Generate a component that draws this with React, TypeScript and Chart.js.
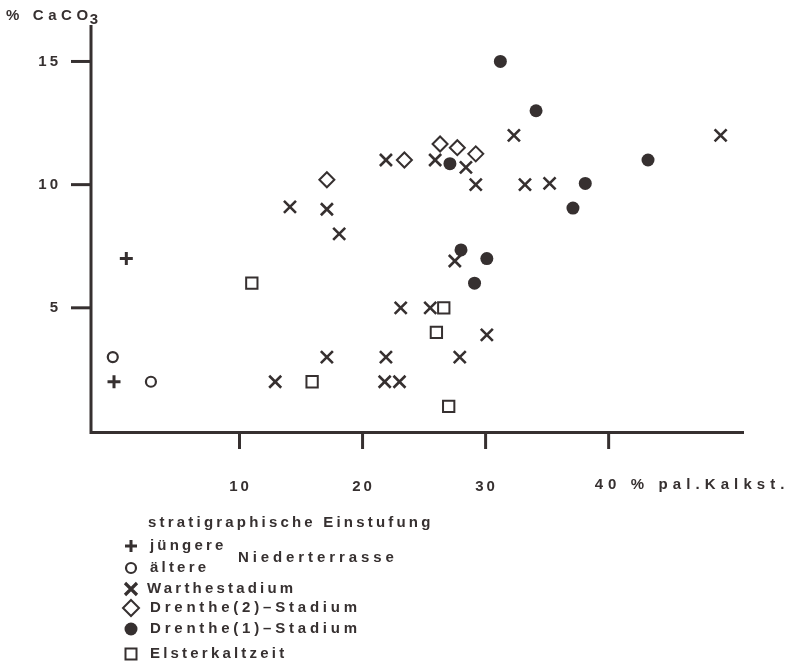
import React, { useEffect, useRef } from 'react';
import { Chart, registerables } from 'chart.js';

Chart.register(...registerables);

// ---- data (x = % pal. Kalkst., y = % CaCO3) ----
const juengereX = [0.8, -0.2];
const juengereY = [7.0, 2.0];

const aeltereX = [-0.3, 2.8];
const aeltereY = [3.0, 2.0];

const wartheX = [14.1, 17.1, 18.1, 21.9, 25.9, 28.4, 29.2, 32.3, 33.2, 35.2, 49.1, 27.5, 23.1, 25.5, 30.1, 17.1, 21.9, 27.9, 12.9, 21.8, 23.0];
const wartheY = [9.1, 9.0, 8.0, 11.0, 11.0, 10.7, 10.0, 12.0, 10.0, 10.05, 12.0, 6.9, 5.0, 5.0, 3.9, 3.0, 3.0, 3.0, 2.0, 2.0, 2.0];

const drenthe2X = [17.1, 23.4, 26.3, 27.7, 29.2];
const drenthe2Y = [10.2, 11.0, 11.65, 11.5, 11.25];

const drenthe1X = [31.2, 34.1, 27.1, 43.2, 38.1, 37.1, 28.0, 30.1, 29.1];
const drenthe1Y = [15.0, 13.0, 10.85, 11.0, 10.05, 9.05, 7.35, 7.0, 6.0];

const elsterX = [11.0, 15.9, 26.6, 26.0, 27.0];
const elsterY = [6.0, 2.0, 5.0, 4.0, 1.0];

const xTickValues = [10, 20, 30, 40];
const xTickLabels = ['10', '20', '30', '40 % pal.Kalkst.'];
const yTickValues = [5, 10, 15];
const yTickLabels = ['5', '10', '15'];

const yAxisTitle = '% CaCO';
const yAxisTitleSub = '3';
const legendTitle = 'stratigraphische Einstufung';
const legendGroupLabel = 'Niederterrasse';
const legendLabels = ['jüngere', 'ältere', 'Warthestadium', 'Drenthe(2)–Stadium', 'Drenthe(1)–Stadium', 'Elsterkaltzeit'];

const INK = '#363030';
const FONT = 'bold 15px "Liberation Sans", Arial, Helvetica, sans-serif';

const pts = (xs: number[], ys: number[]) => xs.map((x, i) => ({ x, y: ys[i] }));

export default function App() {
  const ref = useRef<HTMLCanvasElement | null>(null);

  useEffect(() => {
    const canvas = ref.current;
    if (!canvas) return;

    const axesPlugin = {
      id: 'customAxes',
      beforeDatasetsDraw(chart: any) {
        const { ctx, chartArea, scales } = chart;
        const { left, right, top, bottom } = chartArea;
        ctx.save();
        ctx.strokeStyle = INK;
        ctx.lineCap = 'butt';
        ctx.lineWidth = 3;
        ctx.beginPath();
        ctx.moveTo(left, top);
        ctx.lineTo(left, bottom + 1.5);
        ctx.lineTo(right, bottom + 1.5);
        ctx.stroke();
        yTickValues.forEach((v) => {
          const py = scales.y.getPixelForValue(v);
          ctx.beginPath();
          ctx.moveTo(left - 20, py);
          ctx.lineTo(left, py);
          ctx.stroke();
        });
        xTickValues.forEach((v) => {
          const px = scales.x.getPixelForValue(v);
          ctx.beginPath();
          ctx.moveTo(px, bottom);
          ctx.lineTo(px, bottom + 18);
          ctx.stroke();
        });
        ctx.restore();
      },
      afterDraw(chart: any) {
        const { ctx, chartArea, scales } = chart;
        const { left, bottom } = chartArea;
        ctx.save();
        ctx.fillStyle = INK;
        ctx.strokeStyle = INK;
        ctx.font = FONT;
        ctx.textBaseline = 'middle';
        (ctx as any).letterSpacing = '3px';

        // y tick labels
        ctx.textAlign = 'right';
        yTickValues.forEach((v, i) => {
          const py = scales.y.getPixelForValue(v);
          ctx.fillText(yTickLabels[i], left - 30, py);
        });
        // x tick labels
        xTickValues.forEach((v, i) => {
          const px = scales.x.getPixelForValue(v);
          if (i === xTickLabels.length - 1) {
            ctx.textAlign = 'left';
            (ctx as any).letterSpacing = '5.1px';
            ctx.fillText(xTickLabels[i], px - 14, bottom + 54);
            (ctx as any).letterSpacing = '3px';
          } else {
            ctx.textAlign = 'center';
            ctx.fillText(xTickLabels[i], px + 1, bottom + 56);
          }
        });

        // y axis title
        ctx.textAlign = 'left';
        ctx.font = 'bold 15px "Liberation Sans", Arial, Helvetica, sans-serif';
        (ctx as any).letterSpacing = '4.6px';
        ctx.textBaseline = 'alphabetic';
        ctx.fillText(yAxisTitle, 6, 20);
        const w = ctx.measureText(yAxisTitle).width;
        ctx.fillText(yAxisTitleSub, 6 + w - 3, 24);

        // legend
        ctx.font = FONT;
        ctx.textBaseline = 'middle';
        (ctx as any).letterSpacing = '3.2px';
        ctx.fillText(legendTitle, 148, 523);
        (ctx as any).letterSpacing = '3.9px';
        ctx.fillText(legendGroupLabel, 238, 558);
        const rows = [546, 568, 589, 608, 629, 654];
        const textX = [150, 150, 147, 150, 150, 150];
        const spacing = [3.2, 3.2, 3.2, 3.8, 3.8, 3.2];
        legendLabels.forEach((t, i) => {
          (ctx as any).letterSpacing = spacing[i] + 'px';
          ctx.fillText(t, textX[i], rows[i]);
        });

        const sx = 131;
        // +
        ctx.lineWidth = 3;
        ctx.beginPath();
        ctx.moveTo(sx - 6, rows[0]); ctx.lineTo(sx + 6, rows[0]);
        ctx.moveTo(sx, rows[0] - 6); ctx.lineTo(sx, rows[0] + 6);
        ctx.stroke();
        // o
        ctx.lineWidth = 2.2;
        ctx.beginPath();
        ctx.arc(sx, rows[1], 5, 0, Math.PI * 2);
        ctx.stroke();
        // X
        ctx.lineWidth = 3.2;
        ctx.beginPath();
        ctx.moveTo(sx - 6, rows[2] - 6); ctx.lineTo(sx + 6, rows[2] + 6);
        ctx.moveTo(sx + 6, rows[2] - 6); ctx.lineTo(sx - 6, rows[2] + 6);
        ctx.stroke();
        // diamond
        ctx.lineWidth = 2;
        ctx.beginPath();
        ctx.moveTo(sx, rows[3] - 8); ctx.lineTo(sx + 8, rows[3]);
        ctx.lineTo(sx, rows[3] + 8); ctx.lineTo(sx - 8, rows[3]);
        ctx.closePath();
        ctx.stroke();
        // filled circle
        ctx.beginPath();
        ctx.arc(sx, rows[4], 6.5, 0, Math.PI * 2);
        ctx.fill();
        // square
        ctx.lineWidth = 2;
        ctx.strokeRect(sx - 5.5, rows[5] - 5.5, 11, 11);

        ctx.restore();
      },
    };

    const chart = new Chart(canvas, {
      type: 'scatter',
      data: {
        datasets: [
          {
            label: 'jüngere',
            data: pts(juengereX, juengereY),
            pointStyle: 'cross',
            pointRadius: 6.5,
            borderWidth: 3,
            borderColor: INK,
            backgroundColor: INK,
          },
          {
            label: 'ältere',
            data: pts(aeltereX, aeltereY),
            pointStyle: 'circle',
            pointRadius: 5,
            borderWidth: 2.2,
            borderColor: INK,
            backgroundColor: '#ffffff',
          },
          {
            label: 'Warthestadium',
            data: pts(wartheX, wartheY),
            pointStyle: 'crossRot',
            pointRadius: 8.5,
            borderWidth: 2.6,
            borderColor: INK,
            backgroundColor: INK,
          },
          {
            label: 'Drenthe(2)–Stadium',
            data: pts(drenthe2X, drenthe2Y),
            pointStyle: 'rectRot',
            pointRadius: 7.5,
            borderWidth: 2,
            borderColor: INK,
            backgroundColor: '#ffffff',
          },
          {
            label: 'Drenthe(1)–Stadium',
            data: pts(drenthe1X, drenthe1Y),
            pointStyle: 'circle',
            pointRadius: 6.5,
            borderWidth: 0,
            borderColor: INK,
            backgroundColor: INK,
          },
          {
            label: 'Elsterkaltzeit',
            data: pts(elsterX, elsterY),
            pointStyle: 'rect',
            pointRadius: 8,
            borderWidth: 2,
            borderColor: INK,
            backgroundColor: '#ffffff',
          },
        ],
      },
      options: {
        responsive: false,
        animation: false,
        devicePixelRatio: 1,
        clip: false,
        layout: { padding: { left: 91, right: 47, top: 25, bottom: 232 } },
        scales: {
          x: { type: 'linear', min: -2.07, max: 51, display: false },
          y: { type: 'linear', min: 0, max: 16.48, display: false },
        },
        plugins: {
          legend: { display: false },
          tooltip: { enabled: false },
        },
        elements: { point: { hoverRadius: 6.5 } },
      },
      plugins: [axesPlugin],
    } as any);

    return () => chart.destroy();
  }, []);

  return (
    <div style={{ position: 'absolute', left: 0, top: 0, width: 791, height: 663, background: '#fff' }}>
      <canvas ref={ref} width={791} height={663} style={{ display: 'block', width: 791, height: 663 }} />
    </div>
  );
}
